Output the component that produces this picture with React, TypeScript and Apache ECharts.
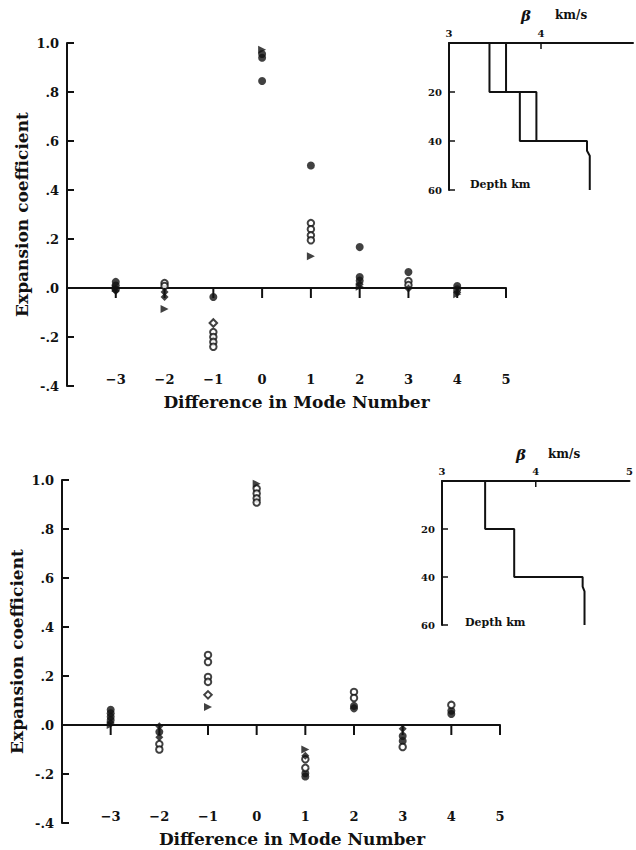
import React, { useEffect, useRef } from "react";
import * as echarts from "echarts";

// ---- axis ticks / labels ----
const xTickValues = [-3, -2, -1, 0, 1, 2, 3, 4, 5];
const xTickLabels = ["−3", "−2", "−1", "0", "1", "2", "3", "4", "5"];
const yTickValues = [-0.4, -0.2, 0, 0.2, 0.4, 0.6, 0.8, 1.0];
const yTickLabels = ["-.4", "-.2", ".0", ".2", ".4", ".6", ".8", "1.0"];
const velTickValues = [3, 4, 5];
const velInnerTicks = [4];
const topVelTickLabels = ["3", "4", ""];
const bottomVelTickLabels = ["3", "4", "5"];
const depthTickValues = [0, 20, 40, 60];
const depthTickLabels = ["", "20", "40", "60"];
const depthInnerTicks = [20, 40, 60];

// ---- top panel data ([mode difference, coefficient]) ----
const topFilledCircles = [
  [-3, 0.025], [-3, 0.01], [-3, -0.005],
  [-1, -0.037],
  [0, 0.845], [0, 0.94], [0, 0.955],
  [1, 0.5],
  [2, 0.167], [2, 0.045], [2, 0.03],
  [3, 0.065],
  [4, 0.008], [4, -0.005],
];
const topOpenCircles = [
  [-2, 0.02], [-2, 0.008],
  [-1, -0.18], [-1, -0.2], [-1, -0.22], [-1, -0.24],
  [1, 0.265], [1, 0.24], [1, 0.215], [1, 0.195],
  [3, 0.028], [3, 0.012],
];
const topOpenDiamonds = [[-1, -0.143]];
const topFilledDiamonds = [
  [-3, -0.012], [-2, -0.016], [-2, -0.037], [2, 0.015], [3, -0.002], [4, -0.018],
];
const topTriangles = [
  [-3, 0.0], [-2, -0.086], [0, 0.972], [1, 0.13], [2, 0.005], [4, -0.025],
];

// ---- bottom panel data ----
const bottomFilledCircles = [
  [-3, 0.062], [-3, 0.048], [-3, 0.034], [-3, 0.02],
  [-2, -0.028],
  [1, -0.197], [1, -0.21],
  [2, 0.078], [2, 0.068],
  [3, -0.045], [3, -0.065],
  [4, 0.058], [4, 0.045],
];
const bottomOpenCircles = [
  [-2, -0.078], [-2, -0.1],
  [-1, 0.286], [-1, 0.257], [-1, 0.196], [-1, 0.176],
  [0, 0.965], [0, 0.945], [0, 0.925], [0, 0.908],
  [1, -0.14], [1, -0.175],
  [2, 0.135], [2, 0.11],
  [3, -0.09],
  [4, 0.082],
];
const bottomOpenDiamonds = [[-1, 0.123]];
const bottomFilledDiamonds = [
  [-3, 0.008], [-2, -0.005], [-2, -0.05], [1, -0.125], [3, -0.015],
];
const bottomTriangles = [
  [-3, 0.0], [-1, 0.073], [0, 0.985], [1, -0.1],
];

// ---- inset shear-velocity profiles ([beta km/s, depth km]) ----
const topProfileA = [
  [3.44, 0], [3.44, 20], [3.77, 20], [3.77, 40], [4.5, 40], [4.5, 44], [4.53, 46], [4.53, 60],
];
const topProfileB = [[3.62, 0], [3.62, 20], [3.95, 20], [3.95, 40]];
const bottomProfile = [
  [3.46, 0], [3.46, 20], [3.77, 20], [3.77, 40], [4.5, 40], [4.5, 44], [4.52, 46], [4.52, 60],
];

const FONT = "DejaVu Serif";
const INK = "#111";
const Y_MIN = -0.4;
const Y_MAX = 1.0;
const X_MIN = -4;
const X_MAX = 5;
const PLOT_H = 343;

function lookup(values: number[], labels: string[]) {
  return (v: number) => {
    for (let i = 0; i < values.length; i++) {
      if (Math.abs(values[i] - v) < 1e-6) return labels[i];
    }
    return "";
  };
}

const labelStyle = { color: INK, fontFamily: FONT, fontWeight: "bold" as const, fontSize: 13 };
const smallLabel = { color: INK, fontFamily: FONT, fontWeight: "bold" as const, fontSize: 10 };

function scatterSeries(gi: number, name: string, data: number[][], kind: string) {
  const base: any = {
    type: "scatter",
    name,
    xAxisIndex: gi * 2,
    yAxisIndex: gi * 2,
    data,
    z: 5,
  };
  if (kind === "filledCircle") {
    base.symbol = "circle";
    base.symbolSize = 8;
    base.itemStyle = { color: INK };
  } else if (kind === "openCircle") {
    base.symbol = "circle";
    base.symbolSize = 6.5;
    base.itemStyle = { color: "#fff", borderColor: INK, borderWidth: 2 };
  } else if (kind === "openDiamond") {
    base.symbol = "diamond";
    base.symbolSize = 7.5;
    base.itemStyle = { color: "#fff", borderColor: INK, borderWidth: 2 };
  } else if (kind === "filledDiamond") {
    base.symbol = "diamond";
    base.symbolSize = 8;
    base.itemStyle = { color: INK };
  } else {
    base.symbol = "triangle";
    base.symbolSize = 8;
    base.symbolRotate = -90;
    base.itemStyle = { color: INK };
  }
  return base;
}

function mainAxes(gi: number, titlePad: number) {
  const zeroOffset = -((0 - Y_MIN) / (Y_MAX - Y_MIN)) * PLOT_H;
  const xs = [
    {
      gridIndex: gi * 2,
      type: "value",
      min: X_MIN,
      max: X_MAX,
      interval: 1,
      position: "bottom",
      offset: zeroOffset,
      axisLine: { show: true, onZero: false, lineStyle: { color: INK, width: 2 } },
      axisTick: { show: false },
      axisLabel: { show: false },
      splitLine: { show: false },
    },
    {
      gridIndex: gi * 2,
      type: "value",
      min: X_MIN,
      max: X_MAX,
      interval: 1,
      position: "bottom",
      axisLine: { show: false, onZero: false },
      axisTick: { show: false },
      axisLabel: { ...labelStyle, margin: -13, formatter: lookup(xTickValues, xTickLabels) },
      splitLine: { show: false },
      name: "Difference in Mode Number",
      nameLocation: "middle",
      nameGap: 7,
      nameMoveOverlap: false,
      nameTextStyle: {
        color: INK, fontFamily: FONT, fontWeight: "bold", fontSize: 17,
        verticalAlign: "top", padding: [0, 0, 0, titlePad],
      },
    },
  ];
  const ys = [
    {
      gridIndex: gi * 2,
      type: "value",
      min: Y_MIN,
      max: Y_MAX,
      interval: 0.2,
      axisLine: { show: true, onZero: false, lineStyle: { color: INK, width: 2 } },
      axisTick: { show: false },
      axisLabel: { ...labelStyle, margin: 8, formatter: lookup(yTickValues, yTickLabels) },
      splitLine: { show: false },
      name: "Expansion coefficient",
      nameLocation: "middle",
      nameRotate: 90,
      nameGap: 37,
      nameMoveOverlap: false,
      nameTextStyle: { color: INK, fontFamily: FONT, fontWeight: "bold", fontSize: 17 },
    },
  ];
  return { xs, ys };
}

function insetAxes(gi: number, velLabels: string[]) {
  const x = {
    gridIndex: gi,
    type: "value",
    min: 3,
    max: 5,
    interval: 1,
    position: "top",
    axisLine: { show: true, onZero: false, lineStyle: { color: INK, width: 2 } },
    axisTick: { show: false },
    axisLabel: { ...smallLabel, margin: 5, formatter: lookup(velTickValues, velLabels) },
    splitLine: { show: false },
  };
  const y = {
    gridIndex: gi,
    type: "value",
    inverse: true,
    min: 0,
    max: 60,
    interval: 20,
    axisLine: { show: true, onZero: false, lineStyle: { color: INK, width: 2 } },
    axisTick: { show: false },
    axisLabel: { ...smallLabel, margin: 7, formatter: lookup(depthTickValues, depthTickLabels) },
    splitLine: { show: false },
  };
  return { x, y };
}

function profileSeries(gi: number, data: number[][]) {
  return {
    type: "line",
    xAxisIndex: gi,
    yAxisIndex: gi,
    data,
    showSymbol: false,
    symbol: "none",
    lineStyle: { color: INK, width: 2 },
    z: 3,
  };
}

export default function App() {
  const ref = useRef<HTMLDivElement>(null);
  useEffect(() => {
    if (!ref.current) return;
    const chart = echarts.init(ref.current, undefined, { renderer: "svg" });
    const top = mainAxes(0, 20);
    const bot = mainAxes(1, 22);
    const topIn = insetAxes(1, topVelTickLabels);
    const botIn = insetAxes(3, bottomVelTickLabels);

    const texts: any[] = [
      { type: "text", left: 521, top: 8, style: { text: "β", fill: INK, font: `italic bold 15px "${FONT}"` } },
      { type: "text", left: 555, top: 9, style: { text: "km/s", fill: INK, font: `bold 12px "${FONT}"` } },
      { type: "text", left: 470, top: 179, style: { text: "Depth km", fill: INK, font: `bold 11px "${FONT}"` } },
      { type: "text", left: 516, top: 447, style: { text: "β", fill: INK, font: `italic bold 15px "${FONT}"` } },
      { type: "text", left: 548, top: 448, style: { text: "km/s", fill: INK, font: `bold 12px "${FONT}"` } },
      { type: "text", left: 465, top: 617, style: { text: "Depth km", fill: INK, font: `bold 11px "${FONT}"` } },
    ];

    const option: any = {
      animation: false,
      backgroundColor: "#fff",
      grid: [
        { left: 67, top: 43, width: 439, height: PLOT_H },
        { left: 449, top: 43, width: 190, height: 147 },
        { left: 60, top: 480, width: 440, height: PLOT_H },
        { left: 442, top: 481, width: 194, height: 144 },
      ],
      xAxis: [top.xs[0], topIn.x, bot.xs[0], botIn.x, top.xs[1], bot.xs[1]],
      yAxis: [top.ys[0], topIn.y, bot.ys[0], botIn.y],
      series: [
        profileSeries(1, topProfileA), // 0
        profileSeries(1, topProfileB), // 1
        profileSeries(3, bottomProfile), // 2
        scatterSeries(0, "top filled circles", topFilledCircles, "filledCircle"), // 3
        scatterSeries(0, "top open circles", topOpenCircles, "openCircle"),
        scatterSeries(0, "top open diamonds", topOpenDiamonds, "openDiamond"),
        scatterSeries(0, "top filled diamonds", topFilledDiamonds, "filledDiamond"),
        scatterSeries(0, "top triangles", topTriangles, "triangle"),
        scatterSeries(1, "bottom filled circles", bottomFilledCircles, "filledCircle"), // 8
        scatterSeries(1, "bottom open circles", bottomOpenCircles, "openCircle"),
        scatterSeries(1, "bottom open diamonds", bottomOpenDiamonds, "openDiamond"),
        scatterSeries(1, "bottom filled diamonds", bottomFilledDiamonds, "filledDiamond"),
        scatterSeries(1, "bottom triangles", bottomTriangles, "triangle"),
      ],
      graphic: texts,
    };
    chart.setOption(option);

    // tick marks: positions come from the axes' own scales via convertToPixel
    const ticks: any[] = [];
    const seg = (x1: number, y1: number, x2: number, y2: number, w: number) =>
      ticks.push({
        type: "line",
        silent: true,
        z: 10,
        shape: { x1, y1, x2, y2 },
        style: { stroke: INK, lineWidth: w },
      });
    const px = (seriesIndex: number, v: number[]) =>
      chart.convertToPixel({ seriesIndex }, v) as number[];

    [3, 8].forEach((si) => {
      xTickValues.forEach((v) => {
        const p = px(si, [v, 0]);
        if (p) seg(p[0], p[1], p[0], p[1] + 10, 2);
      });
      yTickValues.forEach((v) => {
        const p = px(si, [X_MIN, v]);
        if (p) seg(p[0], p[1], p[0] + 7, p[1], 2);
      });
    });
    [0, 2].forEach((si) => {
      velInnerTicks.forEach((v) => {
        const p = px(si, [v, 0]);
        if (p) seg(p[0], p[1], p[0], p[1] + 6, 1.5);
      });
      depthInnerTicks.forEach((d) => {
        const p = px(si, [3, d]);
        if (p) seg(p[0], p[1], p[0] + 6, p[1], 1.5);
      });
    });
    chart.setOption({ graphic: [...texts, ...ticks] });

    return () => chart.dispose();
  }, []);
  return (
    <div
      ref={ref}
      style={{ position: "absolute", left: 0, top: 0, width: 636, height: 850, background: "#fff" }}
    />
  );
}
